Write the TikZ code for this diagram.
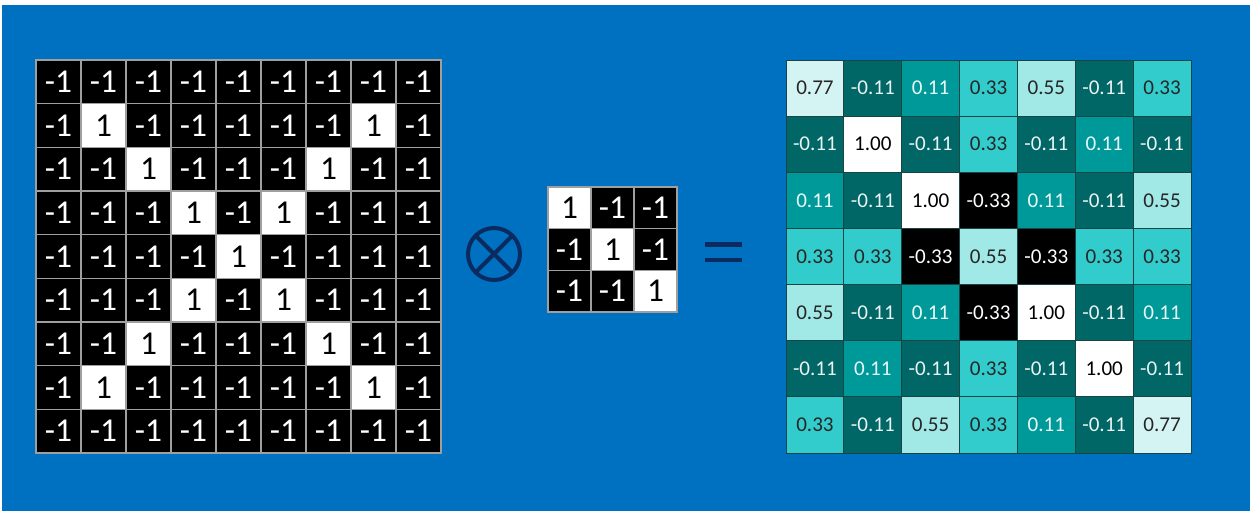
\documentclass[tikz,border=0pt]{standalone}
\usepackage{fontspec}
\setmainfont{Carlito}
\usepackage{xcolor}
\definecolor{bgblue}{HTML}{0070C0}
\definecolor{navy}{HTML}{0B2A60}
\definecolor{tealline}{HTML}{1B4444}
\definecolor{t77}{HTML}{D4F4F3}
\definecolor{t55}{HTML}{A0E9E6}
\definecolor{t33}{HTML}{33CCCC}
\definecolor{t11}{HTML}{009999}
\definecolor{tm11}{HTML}{006666}

\begin{document}
\begin{tikzpicture}[x=0.02cm, y=-0.02cm,
  every node/.style={inner sep=0pt, outer sep=0pt},
  bw/.style={draw=gray!75, line width=0.6pt, font=\fontsize{19}{20}\selectfont},
  bigcell/.style={bw, minimum width=0.9cm, minimum height=0.873cm},
  smallcell/.style={bw, minimum width=0.86cm, minimum height=0.833cm},
  bw 1/.style={fill=white, text=black},
  bw -1/.style={fill=black, text=white},
  outcell/.style={draw=tealline, line width=0.5pt, minimum width=1.157cm,
    minimum height=1.123cm, font=\fontsize{12}{13}\selectfont},
  out 0.77/.style={fill=t77, text=black!85},
  out 0.55/.style={fill=t55, text=black!85},
  out 0.33/.style={fill=t33, text=black!85},
  out 0.11/.style={fill=t11, text=white!92!t11},
  out -0.11/.style={fill=tm11, text=white!92!tm11},
  out -0.33/.style={fill=black, text=white},
  out 1.00/.style={fill=white, text=black}]
\useasboundingbox (0,0) rectangle (1250,511);
% background
\fill[white] (0,0) rectangle (1250,511);
\fill[bgblue] (2,5) rectangle (1250,511);
% input image, 9x9 with an X of ones
\foreach \r in {0,...,8} {
  \foreach \c in {0,...,8} {
    \pgfmathtruncatemacro{\one}{(\r>0)&&(\r<8)&&((\r==\c)||(\r+\c==8))}
    \ifnum\one=1 \def\v{1}\else\def\v{-1}\fi
    \node[bigcell, bw \v] (img-\r-\c) at (58.5+45*\c, 81.83+43.67*\r) {\v};
  }
}
% convolution sign
\node[circle, draw=navy, line width=0.08cm, minimum size=1.04cm] (conv) at (494,254) {};
\draw[navy, line width=0.08cm] (conv.north west) -- (conv.south east);
\draw[navy, line width=0.08cm] (conv.south west) -- (conv.north east);
% 3x3 filter
\foreach \row [count=\r from 0] in {{1,-1,-1},{-1,1,-1},{-1,-1,1}} {
  \foreach \v [count=\c from 0] in \row {
    \node[smallcell, bw \v] (flt-\r-\c) at (569.5+43*\c, 207.83+41.67*\r) {\v};
  }
}
% equals sign
\node[minimum width=0.74cm, minimum height=0.4cm] (eq) at (723.5,252) {};
\fill[navy] (eq.north west) rectangle ([yshift=0.11cm]eq.east);
\fill[navy] (eq.south east) rectangle ([yshift=-0.11cm]eq.west);
% feature map
\foreach \row [count=\r from 0] in {
  {0.77,-0.11,0.11,0.33,0.55,-0.11,0.33},
  {-0.11,1.00,-0.11,0.33,-0.11,0.11,-0.11},
  {0.11,-0.11,1.00,-0.33,0.11,-0.11,0.55},
  {0.33,0.33,-0.33,0.55,-0.33,0.33,0.33},
  {0.55,-0.11,0.11,-0.33,1.00,-0.11,0.11},
  {-0.11,0.11,-0.11,0.33,-0.11,1.00,-0.11},
  {0.33,-0.11,0.55,0.33,0.11,-0.11,0.77}} {
  \foreach \v [count=\c from 0] in \row {
    \node[outcell, out \v] (map-\r-\c) at (814.93+57.86*\c, 88.07+56.14*\r) {\v};
  }
}
\end{tikzpicture}
\end{document}
